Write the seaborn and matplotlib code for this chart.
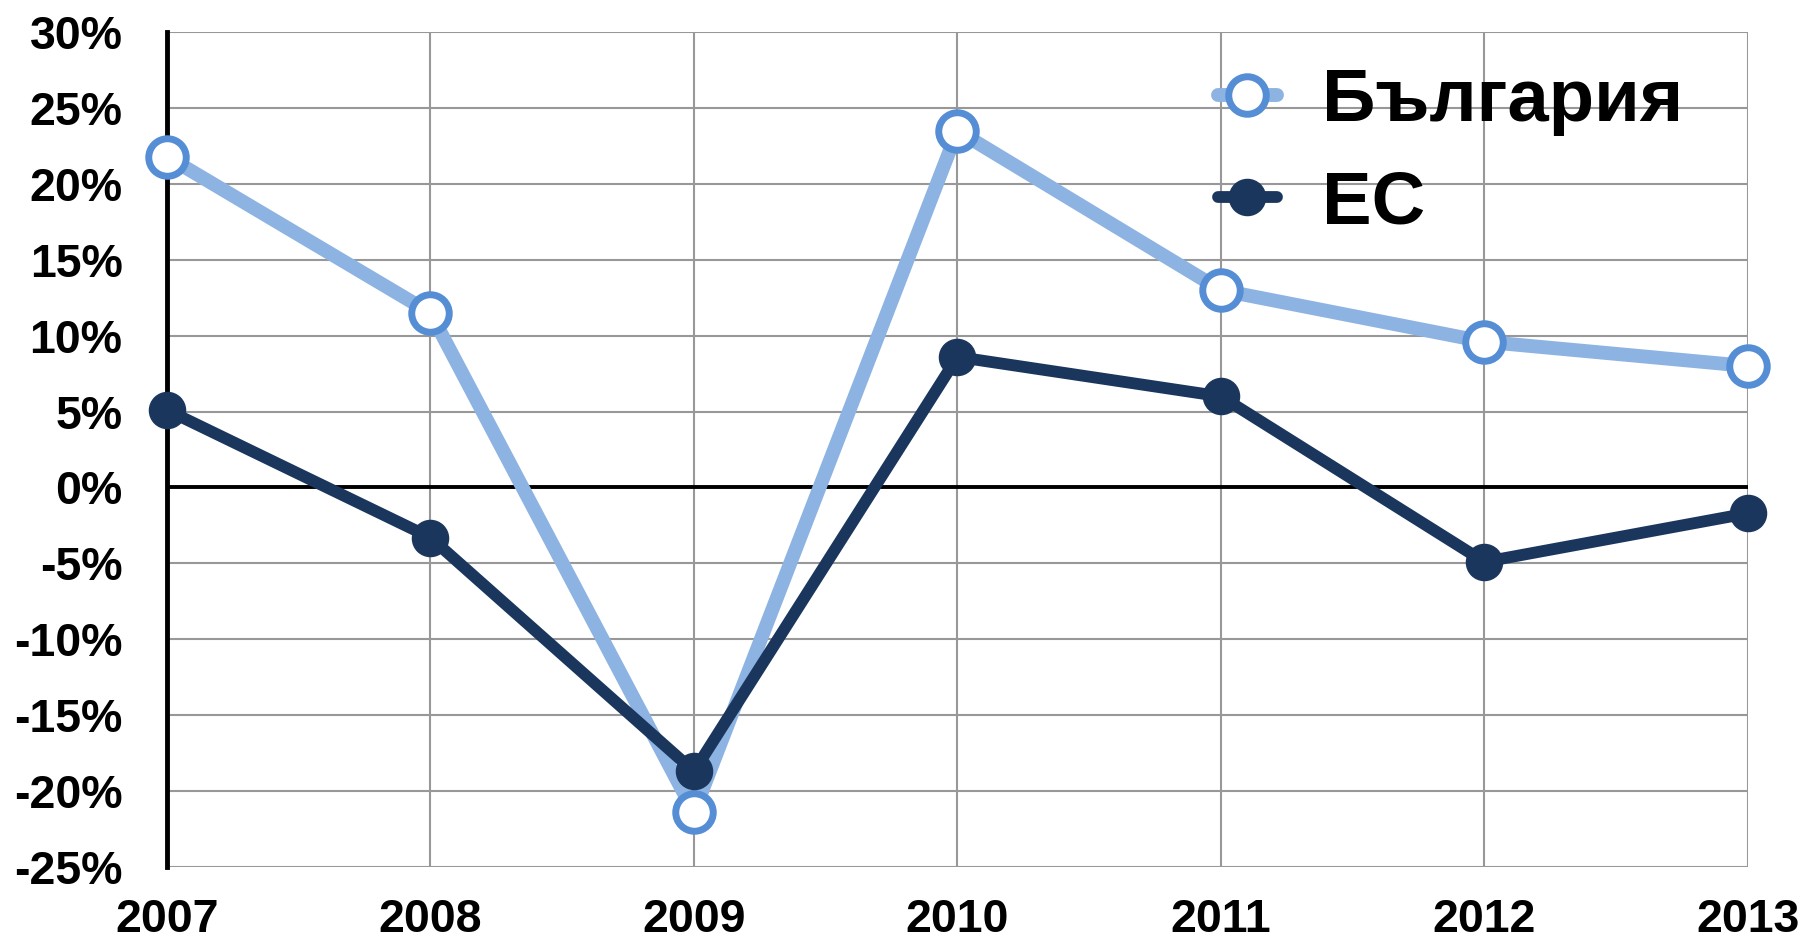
import matplotlib
matplotlib.use("Agg")
import matplotlib.pyplot as plt
import pandas as pd
import seaborn as sns

# --- data ---
years = [2007, 2008, 2009, 2010, 2011, 2012, 2013]
bulgaria = [21.8, 11.5, -21.4, 23.5, 13.0, 9.6, 8.0]
eu = [5.1, -3.3, -18.7, 8.6, 6.0, -4.9, -1.7]
y_ticks = [-25, -20, -15, -10, -5, 0, 5, 10, 15, 20, 25, 30]
label_bg = "България"
label_eu = "ЕС"

df_bg = pd.DataFrame({"year": years, "value": bulgaria})
df_eu = pd.DataFrame({"year": years, "value": eu})

sns.set_style("white")
plt.rcParams["font.family"] = ["Liberation Sans", "DejaVu Sans"]
plt.rcParams["font.weight"] = "bold"
plt.rcParams["text.color"] = "black"
plt.rcParams["xtick.color"] = "black"
plt.rcParams["ytick.color"] = "black"

fig = plt.figure(figsize=(18.07, 9.43), dpi=100)
ax = fig.add_axes([0.0924, 0.0806, 0.8749, 0.8854])

# grid
for y in y_ticks:
    ax.axhline(y, color="#989898", lw=1.5, zorder=0)
for x in years:
    ax.axvline(x, color="#989898", lw=1.5, zorder=0)
ax.axhline(0, color="black", lw=2.8, zorder=1)

sns.lineplot(data=df_bg, x="year", y="value", ax=ax, color="#8DB3E2", lw=10,
             marker="o", markersize=27, markerfacecolor="white",
             markeredgecolor="#558ED5", markeredgewidth=5, label=label_bg,
             zorder=3, clip_on=False)
sns.lineplot(data=df_eu, x="year", y="value", ax=ax, color="#1B365D", lw=8.5,
             marker="o", markersize=26, markerfacecolor="#1B365D",
             markeredgecolor="#1B365D", markeredgewidth=1, label=label_eu,
             zorder=4, clip_on=False)

ax.set_xlim(2007, 2013)
ax.set_ylim(-25, 30)
ax.set_xticks(years)
ax.set_xticklabels([str(y) for y in years])
ax.set_yticks(y_ticks)
ax.set_yticklabels([f"{t}%" for t in y_ticks])
ax.tick_params(axis="both", length=0, labelsize=33.5, labelcolor="black")
ax.tick_params(axis="y", pad=32)
ax.tick_params(axis="x", pad=22)
for lab in ax.get_xticklabels() + ax.get_yticklabels():
    lab.set_fontweight("bold")
ax.set_xlabel("")
ax.set_ylabel("")

for s in ["top", "right", "bottom"]:
    ax.spines[s].set_visible(False)
ax.spines["left"].set_color("black")
ax.spines["left"].set_linewidth(3.5)
ax.spines["left"].set_zorder(2)

leg = ax.legend(loc="upper left", bbox_to_anchor=(0.641, 1.003), frameon=False,
                fontsize=53.5, handlelength=0.8, handletextpad=0.6,
                labelspacing=0.45, borderpad=0)
for t in leg.get_texts():
    t.set_fontweight("bold")
    t.set_color("black")

fig.savefig("out.png", dpi=100, facecolor="white")
